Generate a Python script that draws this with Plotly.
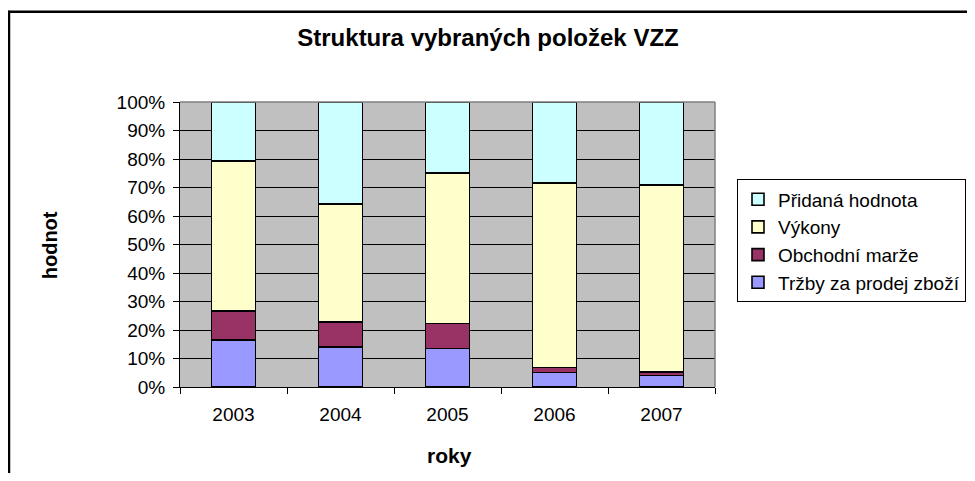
import plotly.graph_objects as go

years = ["2003", "2004", "2005", "2006", "2007"]
trzby = [16.5, 14.1, 13.5, 5.1, 4.1]
marze = [10.1, 8.8, 8.8, 1.8, 1.1]
vykony = [52.6, 41.3, 52.7, 64.6, 65.6]
pridana = [20.8, 35.8, 25.0, 28.5, 29.2]
y_ticks = [0, 10, 20, 30, 40, 50, 60, 70, 80, 90, 100]
y_ticktext = [f"{v}%" for v in y_ticks]

series = [
    ("Tržby za prodej zboží", trzby, "#9999FF"),
    ("Obchodní marže", marze, "#993366"),
    ("Výkony", vykony, "#FFFFCC"),
    ("Přidaná hodnota", pridana, "#CCFFFF"),
]

FONT = "Liberation Sans, Arial, sans-serif"

fig = go.Figure()
for i, (name, vals, col) in enumerate(series):
    fig.add_trace(go.Bar(
        x=years, y=vals, name=name, width=0.41,
        marker=dict(color=col, line=dict(color="black", width=1.6)),
        legendgroup=f"g{i}", legendrank=len(series) - i,
    ))

# page has an 8px body margin: figure occupies page x 8..975, y 8..473
OFF = 8
W, H = 975 - OFF, 481 - 2 * OFF
# plot area in page coordinates: x 180..715, y 101.5..387
L, R, T, B = 180 - OFF, 715 - OFF, 101.5 - OFF, 387 - OFF
pw, ph = R - L, B - T


def px(x):  # page x -> paper
    return (x - OFF - L) / pw


def py(y):  # page y -> paper
    return (B - (y - OFF)) / ph


fig.update_layout(
    width=W, height=H,
    margin=dict(l=L, r=W - R, t=T, b=H - B, autoexpand=False),
    barmode="stack",
    paper_bgcolor="white",
    plot_bgcolor="#C0C0C0",
    font=dict(family=FONT, size=18, color="black"),
    title=dict(text="<b>Struktura vybraných položek VZZ</b>", x=(488 - OFF) / W, xref="container",
               y=1 - (38 - OFF) / H, yref="container", yanchor="middle", xanchor="center",
               font=dict(size=24, family=FONT, color="black")),
    showlegend=True,
    legend=dict(
        x=px(737), y=py(179), xanchor="left", yanchor="top",
        traceorder="grouped", tracegroupgap=0,
        bordercolor="black", borderwidth=1, bgcolor="white",
        font=dict(size=19, family=FONT, color="black"),
    ),
    xaxis=dict(
        type="category", showgrid=False, showline=True, linecolor="black", linewidth=1,
        ticks="outside", tickson="boundaries", ticklen=6, tickcolor="black",
        ticklabelstandoff=10, zeroline=False, tickfont=dict(size=19),
    ),
    yaxis=dict(
        range=[0, 100], tickmode="array", tickvals=y_ticks, ticktext=y_ticktext,
        showgrid=True, gridcolor="black", gridwidth=1,
        showline=True, linecolor="black", linewidth=1,
        ticks="outside", ticklen=6, tickcolor="black", ticklabelstandoff=4,
        zeroline=False, tickfont=dict(size=19),
    ),
    shapes=[
        # outer chart frame: only top and left edges are visible in the reference
        dict(type="line", xref="paper", yref="paper", x0=px(8), y0=py(11), x1=px(1000), y1=py(11),
             line=dict(color="black", width=2.5), layer="below"),
        dict(type="line", xref="paper", yref="paper", x0=px(9), y0=py(10), x1=px(9), y1=py(520),
             line=dict(color="black", width=2.5), layer="below"),
        dict(type="line", xref="paper", yref="paper", x0=0, x1=1, y0=1, y1=1,
             line=dict(color="#808080", width=1.5), layer="above"),
        dict(type="line", xref="paper", yref="paper", x0=1, x1=1, y0=0, y1=1,
             line=dict(color="#808080", width=1.5), layer="above"),
    ],
    annotations=[
        dict(text="<b>hodnot</b>", xref="paper", yref="paper", x=px(50), y=py(245),
             textangle=-90, showarrow=False, font=dict(size=20, family=FONT, color="black"),
             xanchor="center", yanchor="middle"),
        dict(text="<b>roky</b>", xref="paper", yref="paper", x=px(450), y=py(456),
             showarrow=False, font=dict(size=21, family=FONT, color="black"),
             xanchor="center", yanchor="middle"),
    ],
)

fig.write_html("out.html")
